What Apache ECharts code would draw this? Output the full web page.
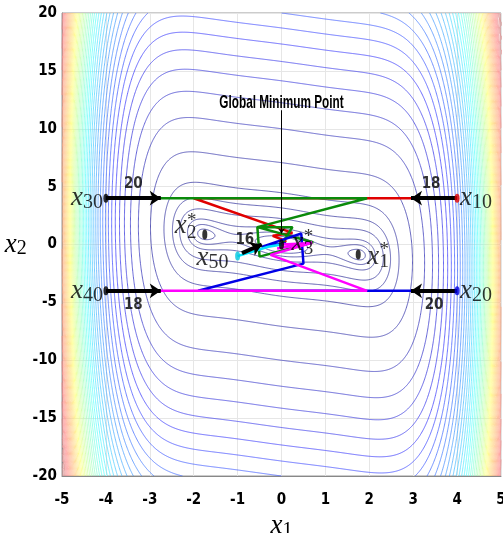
<!DOCTYPE html>
<html><head><meta charset="utf-8">
<script src="https://cdn.jsdelivr.net/npm/echarts@6/dist/echarts.min.js"></script>
<style>html,body{margin:0;padding:0;background:#fff}#c{width:503px;height:533px}</style>
</head><body><div id="c"></div>
<script>
// ---- data ----
var xTicks = [-5,-4,-3,-2,-1,0,1,2,3,4,5];
var yTicks = [-20,-15,-10,-5,0,5,10,15,20];
// contour levels of the plotted test function (three-hump camel)
var lowLevels = [0.5, 1, 2, 5, 10, 20];
var highLevels = [50,100,150,200,250,300,350,400,450,500,550,600,650,700,750,800,850,900,950,1000,1050,1100,1150,1200,1250,1300,1350,1400,1450,1500,1550,1600,1650,1700,1750,1800,1850,1900,1950,2000,2050,2100,2150,2200,2250,2300,2350,2400,2450];
var zMax = 2498;
// trajectories
var redPath = [[4,4],[-2,4],[0.25,1.0],[-0.2,0.75],[0.1,0.3],[0,0]];
var greenPath = [[-4,4],[1.95,4],[-0.55,1.5],[-0.5,-1.05],[0.72,0.2],[-0.55,1.5],[0.25,1.5],[0,0]];
var bluePath = [[4,-4],[-1.9,-4],[0.5,-1.65],[0.45,0.95],[-0.45,-0.2],[0.1,0.1],[0,0]];
var magentaPath = [[-4,-4],[1.95,-4],[-0.25,-0.9],[0.7,0.15],[-0.1,-0.35],[0.6,0.1],[0,0]];
var cyanPath = [[-1,-1],[-0.3,-0.2],[0,0]];
var startPts = [[4,4],[4,-4],[-4,4],[-4,-4],[-1,-1]];
var startNames = ['10','20','30','40','50'];
var startColors = ['#e00000','#0000e0','#000000','#000000','#00c8e0'];
var minima = [[1.7476,-0.8738],[-1.7476,0.8738],[0,0]];
var minimaNames = ['1','2','3'];
var arrowFrom = [[-4,4],[-4,-4],[4,4],[4,-4],[-0.9,-0.75]];
var arrowTo = [[-2.75,4],[-2.75,-4],[2.95,4],[2.95,-4],[-0.45,0.0]];
var arrowLabels = ['20','18','18','20','16'];
var annotation = 'Global Minimum Point';

// ---- layout / style config ----
var startLabelPos = ['right','right','left','left','left'];
var startLabelOff = [[0,0],[0,0],[0,0],[0,0],[-6,2]];
var minXOff = [[15,2],[-24,-8],[16,-2]];
var minStackOff = [[26,1],[-13,-7],[27,-1]];
var arrowLabelPos = ['top','bottom','top','bottom','inside'];
var arrowLabelOff = [[0,0],[0,0],[-3,0],[0,0],[-7,-9]];
var NARROW = 'Liberation Sans Narrow, DejaVu Sans Condensed, sans-serif';

function f(x,y){var x2=x*x;return 2*x2-1.05*x2*x2+x2*x2*x2/6+x*y+y*y;}

function jet(t){
  t=Math.max(0,Math.min(1,t));
  function c(v){return Math.max(0,Math.min(1,v));}
  var r=c(1.5-Math.abs(4*t-3)), g=c(1.5-Math.abs(4*t-2)), b=c(1.5-Math.abs(4*t-1));
  var a=0.78-0.4*t;
  function m(v){return Math.round(255*(1-a)+255*v*a);}
  return 'rgb('+m(r)+','+m(g)+','+m(b)+')';
}

// marching squares
function contourSegs(level, xs, ys, Z){
  var segs=[]; var nx=xs.length, ny=ys.length;
  function interp(a,b,va,vb){return a+(level-va)/(vb-va)*(b-a);}
  for(var j=0;j<ny-1;j++){
    for(var i=0;i<nx-1;i++){
      var v0=Z[j][i], v1=Z[j][i+1], v2=Z[j+1][i+1], v3=Z[j+1][i];
      var idx=(v0>level?1:0)|(v1>level?2:0)|(v2>level?4:0)|(v3>level?8:0);
      if(idx===0||idx===15) continue;
      var x0=xs[i],x1=xs[i+1],y0=ys[j],y1=ys[j+1];
      var pb=[interp(x0,x1,v0,v1),y0], pr=[x1,interp(y0,y1,v1,v2)], pt=[interp(x0,x1,v3,v2),y1], pl=[x0,interp(y0,y1,v0,v3)];
      switch(idx){
        case 1: case 14: segs.push([pl,pb]); break;
        case 2: case 13: segs.push([pb,pr]); break;
        case 3: case 12: segs.push([pl,pr]); break;
        case 4: case 11: segs.push([pr,pt]); break;
        case 6: case 9: segs.push([pb,pt]); break;
        case 7: case 8: segs.push([pl,pt]); break;
        case 5: segs.push([pl,pt]); segs.push([pb,pr]); break;
        case 10: segs.push([pl,pb]); segs.push([pr,pt]); break;
      }
    }
  }
  return segs;
}
function grid(x0,x1,nx,y0,y1,ny){
  var xs=[],ys=[],Z=[];
  for(var i=0;i<nx;i++) xs.push(x0+(x1-x0)*i/(nx-1));
  for(var j=0;j<ny;j++) ys.push(y0+(y1-y0)*j/(ny-1));
  for(var j2=0;j2<ny;j2++){var row=[];for(var i2=0;i2<nx;i2++) row.push(f(xs[i2],ys[j2]));Z.push(row);}
  return {xs:xs,ys:ys,Z:Z};
}
var G = grid(-5,5,801,-20,20,401);
var Gc = grid(-3.2,3.2,321,-6,6,241);

var series=[];
function contourSeries(L,g){
  return {type:'lines',coordinateSystem:'cartesian2d',large:true,largeThreshold:100,silent:true,z:1,
    lineStyle:{color:jet(L/zMax),width:0.8,opacity:1},data:contourSegs(L,g.xs,g.ys,g.Z).map(function(s){return {coords:s};})};
}
lowLevels.forEach(function(L){series.push(contourSeries(L,Gc));});
highLevels.forEach(function(L){series.push(contourSeries(L,G));});

function pathSeries(d,col){return {type:'line',data:d,symbol:'none',z:5,silent:true,lineStyle:{color:col,width:2.5}};}
series.push(pathSeries(redPath,'#e00000'));
series.push(pathSeries(greenPath,'#0a8a0a'));
series.push(pathSeries(bluePath,'#0000e6'));
series.push(pathSeries(magentaPath,'#ff00ff'));
series.push(pathSeries(cyanPath,'#00e5ff'));

// arrows
series.push({type:'lines',coordinateSystem:'cartesian2d',z:8,silent:true,
  symbol:['none','arrow'],symbolSize:11,
  lineStyle:{color:'#000',width:4,opacity:1},
  data:arrowFrom.map(function(a,i){return {coords:[a,arrowTo[i]]};})});
series.push({type:'scatter',z:9,symbolSize:0,silent:true,
  data:arrowFrom.map(function(a,i){return {value:[(a[0]+arrowTo[i][0])/2,(a[1]+arrowTo[i][1])/2],
   label:{show:true,position:arrowLabelPos[i],distance:7,offset:arrowLabelOff[i],formatter:arrowLabels[i]}};}),
  label:{color:'#000',fontFamily:NARROW,fontWeight:'bold',fontSize:15}});

// markers
series.push({type:'scatter',z:10,silent:true,symbol:'circle',symbolSize:[5,10],
  data:minima,itemStyle:{color:'#000'}});
series.push({type:'scatter',z:10,silent:true,symbol:'circle',symbolSize:[5,9],
  data:startPts.map(function(p,i){return {value:p,itemStyle:{color:startColors[i]}};})});

var rich={x:{fontFamily:'Liberation Serif',fontStyle:'italic',fontSize:27,color:'#000'},
  s:{fontFamily:'Liberation Serif',fontSize:20,color:'#000',padding:[9,0,0,0]}};
series.push({type:'scatter',z:11,silent:true,symbolSize:0,
  data:startPts.map(function(p,i){
    return {value:p,label:{show:true,position:startLabelPos[i],distance:3,offset:startLabelOff[i],formatter:'{x|x}{s|'+startNames[i]+'}',rich:rich}};})});
series.push({type:'scatter',z:11,silent:true,symbolSize:0,
  data:minima.map(function(p,i){
    return {value:p,label:{show:true,position:'inside',offset:minXOff[i],formatter:'x',
      fontFamily:'Liberation Serif',fontStyle:'italic',fontSize:27,color:'#000'}};})});
series.push({type:'scatter',z:11,silent:true,symbolSize:0,
  data:minima.map(function(p,i){
    return {value:p,label:{show:true,position:'inside',offset:minStackOff[i],formatter:'*\n'+minimaNames[i],
      fontFamily:'Liberation Serif',fontSize:19,lineHeight:12,color:'#000'}};})});

// Global minimum pointer line
series.push({type:'lines',coordinateSystem:'cartesian2d',z:12,silent:true,symbol:['none','arrow'],symbolSize:5,
  lineStyle:{color:'#000',width:1,opacity:1},data:[{coords:[[0,11.6],[0,0.95]]}]});

var chart=echarts.init(document.getElementById('c'),null,{renderer:'canvas'});
chart.setOption({
  animation:false,
  grid:{left:62,right:2,top:13,bottom:57,show:true,borderColor:'#999',borderWidth:1,backgroundColor:'transparent',outerBoundsMode:'none',containLabel:false},
  xAxis:{type:'value',min:-5,max:5,interval:1,
    axisLine:{onZero:false,lineStyle:{color:'#888'}},axisTick:{show:false},
    axisLabel:{color:'#000',fontFamily:NARROW,fontWeight:'bold',fontSize:15,margin:17},
    splitLine:{show:true,lineStyle:{color:'#e6e6e6'}},
    name:'{x|x}{s|1}',nameLocation:'middle',nameGap:33,nameTextStyle:{rich:rich}},
  yAxis:{type:'value',min:-20,max:20,interval:5,
    axisLine:{onZero:false,lineStyle:{color:'#888'}},axisTick:{show:false},
    axisLabel:{color:'#000',fontFamily:NARROW,fontWeight:'bold',fontSize:15,margin:5,padding:[6,0,0,0]},
    splitLine:{show:true,lineStyle:{color:'#e6e6e6'}},
    name:'{x|x}{s|2}',nameLocation:'middle',nameGap:32,nameRotate:0,nameTextStyle:{rich:rich}},
  series:series
});
var tp = chart.convertToPixel({gridIndex:0},[0,12.4]);
chart.setOption({graphic:[{type:'text',x:tp[0],y:tp[1]+2,scaleX:0.62,scaleY:1,z:20,
  style:{text:annotation,fontFamily:'Liberation Sans, Arial, sans-serif',fontWeight:'bold',fontSize:19,fill:'#000',align:'center',verticalAlign:'middle'}}]});
</script></body></html>
